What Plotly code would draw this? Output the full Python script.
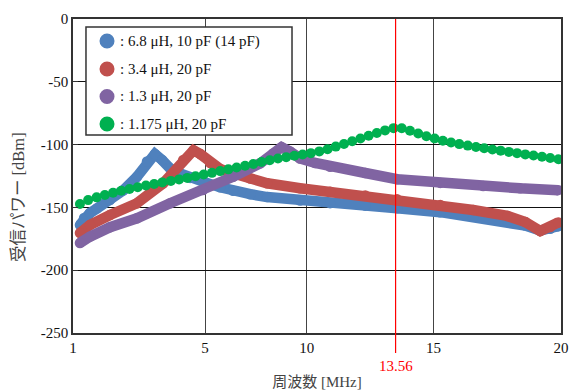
import plotly.graph_objects as go

# ---- data (x = sweep position on the chart's horizontal axis, y = received power dBm) ----
blue_x = [1.27, 1.43, 1.66, 1.94, 2.44, 2.95, 3.49, 3.88, 4.19, 4.47, 4.78, 5.17, 5.56, 6.06,
          6.73, 7.23, 7.90, 8.56, 9.84, 11.01, 12.38, 13.62, 15.30, 16.58, 17.91, 18.61,
          19.19, 19.58, 19.89]
blue_y = [-164.0, -158.5, -154.5, -150.7, -144.1, -136.5, -125.6, -113.5, -107.5, -112.3,
          -118.9, -122.9, -126.5, -129.5, -134.0, -136.8, -139.5, -141.8, -144.5, -146.6,
          -148.6, -150.7, -153.8, -157.4, -161.4, -164.5, -168.5, -167.0, -165.0]

red_x = [1.27, 1.66, 2.44, 3.49, 4.51, 5.29, 5.69, 5.95, 6.34, 6.73, 7.23, 7.90, 8.56, 9.84,
         11.01, 12.38, 13.62, 15.30, 16.58, 17.91, 18.61, 19.19, 19.58, 19.89]
red_y = [-170.4, -164.0, -156.1, -146.7, -130.8, -112.3, -104.5, -107.5, -114.6, -119.4,
         -122.9, -127.0, -130.8, -134.8, -137.5, -140.5, -143.6, -148.1, -152.1, -156.8,
         -161.6, -168.8, -165.6, -162.0]

purple_x = [1.27, 1.66, 2.44, 3.49, 4.78, 6.06, 7.23, 8.29, 8.79, 9.12, 9.45, 9.84, 10.43,
            11.01, 12.38, 13.62, 15.30, 16.97, 18.41, 19.89]
purple_y = [-178.3, -173.3, -165.8, -158.7, -146.7, -136.1, -125.6, -114.9, -107.0, -102.0,
            -105.5, -111.0, -114.6, -117.6, -122.6, -127.6, -130.5, -133.0, -134.8, -136.3]

green_x = [1.27, 1.59, 1.92, 2.24, 2.56, 2.88, 3.20, 3.52, 3.84, 4.16, 4.48, 4.81, 5.13,
           5.45, 5.77, 6.09, 6.41, 6.73, 7.05, 7.37, 7.70, 8.02, 8.34, 8.66, 8.98, 9.30,
           9.62, 9.94, 10.26, 10.59, 10.91, 11.23, 11.55, 11.87, 12.19, 12.51, 12.83, 13.15,
           13.48, 13.80, 14.12, 14.44, 14.76, 15.08, 15.40, 15.72, 16.04, 16.37, 16.69, 17.01,
           17.33, 17.65, 17.97, 18.29, 18.61, 18.93, 19.26, 19.58, 19.90]
green_y = [-147.3, -144.2, -142.0, -140.1, -138.4, -136.8, -135.4, -133.9, -132.6, -131.4,
           -130.1, -128.9, -127.7, -126.5, -125.2, -123.8, -122.5, -121.1, -119.7, -118.3,
           -116.9, -115.4, -113.9, -112.4, -111.1, -110.0, -108.9, -107.9, -106.8, -105.4,
           -103.7, -101.6, -99.5, -97.3, -95.1, -93.0, -90.8, -88.7, -86.9, -87.0, -89.0,
           -91.2, -93.3, -95.2, -96.9, -98.3, -99.6, -100.8, -101.9, -102.9, -103.9, -104.8,
           -105.8, -106.8, -107.8, -108.7, -109.7, -110.7, -111.7]

series_names = [": 6.8 μH, 10 pF (14 pF)", ": 3.4 μH, 20 pF", ": 1.3 μH, 20 pF", ": 1.175 μH, 20 pF"]
series_colors = ["#4F81BD", "#C0504D", "#8064A2", "#00B050"]

x_tick_vals = [1, 6.14, 10.10, 15.04, 20]
x_tick_text = ["1", "5", "10", "15", "20"]
y_tick_vals = [0, -50, -100, -150, -200, -250]
y_tick_text = ["0", "-50", "-100", "-150", "-200", "-250"]
marker_freq = 13.56

SERIF = "Liberation Serif, Noto Sans CJK JP, serif"

fig = go.Figure()
all_x = [blue_x, red_x, purple_x]
all_y = [blue_y, red_y, purple_y]
for xs, ys, col, nm in zip(all_x, all_y, series_colors[:3], series_names[:3]):
    fig.add_trace(go.Scatter(x=xs, y=ys, mode="lines+markers", name=nm,
                             line=dict(color=col, width=10.5),
                             marker=dict(color=col, size=10.5),
                             showlegend=False, hoverinfo="skip"))
fig.add_trace(go.Scatter(x=green_x, y=green_y, mode="markers", name=series_names[3],
                         marker=dict(color=series_colors[3], size=10),
                         showlegend=False, hoverinfo="skip"))

# ---- legend box (drawn by hand to match the reference spacing) ----
leg_x0, leg_x1, leg_y0, leg_y1 = 0.0266, 0.4488, 0.6306, 0.9745
fig.add_shape(type="rect", xref="paper", yref="paper",
              x0=leg_x0, x1=leg_x1, y0=leg_y0, y1=leg_y1,
              line=dict(color="#333333", width=1.5), fillcolor="white", layer="above")
row_y = [0.9299, 0.8408, 0.7532, 0.6656]
for ry, nm, col in zip(row_y, series_names, series_colors):
    fig.add_shape(type="circle", xref="paper", yref="paper",
                  xsizemode="pixel", ysizemode="pixel",
                  xanchor=0.0697, yanchor=ry, x0=-7.5, x1=7.5, y0=-7.5, y1=7.5,
                  fillcolor=col, line=dict(width=0), layer="above")
    fig.add_annotation(x=0.0922, xref="paper", y=ry, yref="paper", text=nm,
                       showarrow=False, xanchor="left", yanchor="middle",
                       font=dict(family=SERIF, size=15, color="#111111"))

fig.add_shape(type="line", xref="x", yref="paper", x0=marker_freq, x1=marker_freq,
              y0=-0.064, y1=1, line=dict(color="#FF0000", width=1.2), layer="above")

fig.add_annotation(x=marker_freq, xref="x", y=-0.105, yref="paper", text=str(marker_freq),
                   showarrow=False, font=dict(family=SERIF, size=15, color="#FF0000"),
                   xanchor="center", yanchor="middle")
fig.add_annotation(x=-0.1127, xref="paper", y=0.433, yref="paper", text="受信パワー [dBm]",
                   textangle=-90, showarrow=False,
                   font=dict(family=SERIF, size=16.5, color="#444444"),
                   xanchor="center", yanchor="middle")

fig.update_layout(
    width=570, height=392,
    margin=dict(l=73, r=9, t=19, b=59, autoexpand=False),
    paper_bgcolor="white", plot_bgcolor="white",
    font=dict(family=SERIF, size=15, color="#222222"),
    showlegend=False,
    xaxis=dict(range=[1, 20], tickmode="array", tickvals=x_tick_vals, ticktext=x_tick_text,
               showgrid=True, gridcolor="#444444", gridwidth=1,
               showline=True, linecolor="#333333", linewidth=1.5, mirror=True,
               ticks="", zeroline=False, automargin=False,
               tickfont=dict(family=SERIF, size=15, color="#111111"),
               title=dict(text="周波数 [MHz]", standoff=22,
                          font=dict(family=SERIF, size=15, color="#444444"))),
    yaxis=dict(range=[-250, 0], tickmode="array", tickvals=y_tick_vals, ticktext=y_tick_text,
               showgrid=True, gridcolor="#111111", gridwidth=1,
               showline=True, linecolor="#333333", linewidth=1.5, mirror=True,
               ticks="inside", ticklen=5, tickcolor="#333333", zeroline=False,
               automargin=False,
               tickfont=dict(family=SERIF, size=15, color="#111111")),
)

fig.write_html("out.html", config={"displayModeBar": False},
               post_script="document.body.style.margin='0';document.body.style.overflow='hidden';")
